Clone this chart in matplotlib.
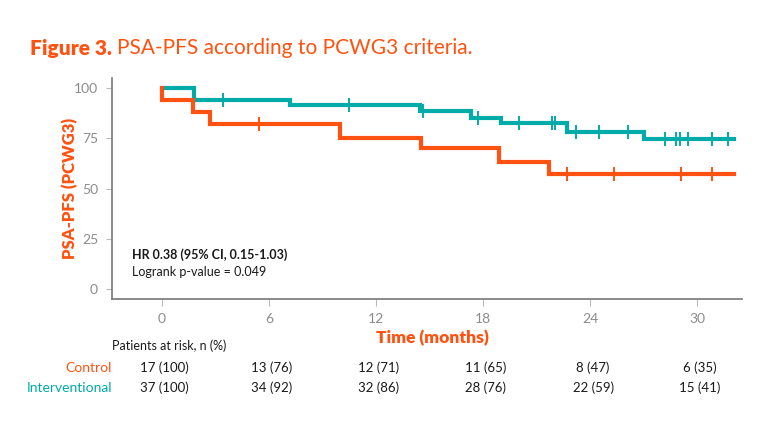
import numpy as np
import matplotlib
matplotlib.use("Agg")
import matplotlib.pyplot as plt

plt.rcParams['font.family'] = ['Lato', 'DejaVu Sans']

ORANGE = "#FF5210"
TEAL = "#00ABA8"
GRAY = "#8C8C8C"

# Kaplan-Meier data (months, %)
control_times = [0, 0, 1.75, 2.7, 10.0, 14.5, 18.9, 21.7]
control_surv = [100, 94, 88, 82, 75, 70, 63, 57]
control_censor = [5.45, 22.7, 25.3, 29.1, 30.8]

interv_times = [0, 1.8, 7.2, 14.45, 17.3, 18.97, 22.7, 27.0]
interv_surv = [100, 94, 91.5, 88.5, 85, 82.5, 78, 74.5]
interv_censor = [3.4, 10.5, 14.6, 17.7, 20.0, 21.85, 22.0, 23.2, 24.5, 26.1,
                 28.2, 28.8, 29.05, 29.5, 30.8, 31.7]
end_time = 32.06

xticks = [0, 6, 12, 18, 24, 30]
yticks = [0, 25, 50, 75, 100]
risk_control = ["17 (100)", "13 (76)", "12 (71)", "11 (65)", "8 (47)", "6 (35)"]
risk_interv = ["37 (100)", "34 (92)", "32 (86)", "28 (76)", "22 (59)", "15 (41)"]

fig = plt.figure(figsize=(7.68, 4.42), dpi=100)
ax = fig.add_axes([112/768, 1-299/442, (742-112)/768, (299-78)/442])


def draw(times, surv, censor, color):
    t = list(times) + [end_time]
    s = list(surv) + [surv[-1]]
    ax.step(t, s, where='post', color=color, lw=3.0, solid_joinstyle='miter', zorder=3)
    tt = np.array(times)
    ss = np.array(surv)
    cy = [ss[np.searchsorted(tt, c, side='right') - 1] for c in censor]
    ax.plot(censor, cy, ls='none', marker='|', ms=10, mew=1.4, color=color, zorder=4)


draw(interv_times, interv_surv, interv_censor, TEAL)
draw(control_times, control_surv, control_censor, ORANGE)

ax.set_xlim(-2.8, 32.5)
ax.set_ylim(-5, 105)
for s in ['top', 'right']:
    ax.spines[s].set_visible(False)
for s in ['left', 'bottom']:
    ax.spines[s].set_color('#777777')
    ax.spines[s].set_linewidth(1.2)
ax.set_xticks(xticks)
ax.set_yticks(yticks)
ax.tick_params(axis='x', length=5, width=0.8, color='#BBBBBB', labelbottom=False)
ax.tick_params(axis='y', length=4, width=0.8, color='#BBBBBB', pad=6,
               labelsize=10, labelcolor=GRAY)

# x tick labels placed under axis
for x in xticks:
    ax.annotate(str(x), xy=(x, 0), xycoords=('data', 'axes fraction'),
                xytext=(0, -14.5), textcoords='offset points', ha='center', va='center',
                fontsize=10, color=GRAY)

ax.set_ylabel("PSA-PFS (PCWG3)", color=ORANGE, fontsize=12, fontweight='heavy')
ax.yaxis.set_label_coords(-0.054, 0.5)

ax.text(-1.7, 17, "HR 0.38 (95% CI, 0.15-1.03)", fontsize=9, fontweight='bold',
        color='#1a1a1a', ha='left', va='center')
ax.text(-1.7, 8.5, "Logrank p-value = 0.049", fontsize=9, color='#1a1a1a',
        ha='left', va='center')

# Title
t1 = fig.text(30/768, 1-48/442, "Figure 3.", fontsize=15, fontweight='heavy',
              color=ORANGE, ha='left', va='center')
fig.canvas.draw()
bb = t1.get_window_extent()
fig.text((bb.x1 + 5)/768, 1-48/442, "PSA-PFS according to PCWG3 criteria.",
         fontsize=15, color=ORANGE, ha='left', va='center')

fig.text(432/768, 1-338/442, "Time (months)", fontsize=12.5, fontweight='heavy',
         color=ORANGE, ha='center', va='center')
fig.text(112/768, 1-346/442, "Patients at risk, n (%)", fontsize=9,
         color='#1a1a1a', ha='left', va='center')
fig.text(112/768, 1-368/442, "Control", fontsize=10, color=ORANGE, ha='right', va='center')
fig.text(112/768, 1-388/442, "Interventional", fontsize=10, color=TEAL, ha='right', va='center')

for x, rc, ri in zip(xticks, risk_control, risk_interv):
    ax.annotate(rc, xy=(x, 0), xycoords=('data', 'axes fraction'),
                xytext=(2, -(368-299)*0.72), textcoords='offset points',
                ha='center', va='center', fontsize=9.5, color='#1a1a1a')
    ax.annotate(ri, xy=(x, 0), xycoords=('data', 'axes fraction'),
                xytext=(2, -(388-299)*0.72), textcoords='offset points',
                ha='center', va='center', fontsize=9.5, color='#1a1a1a')

fig.savefig("out.png", dpi=100)
